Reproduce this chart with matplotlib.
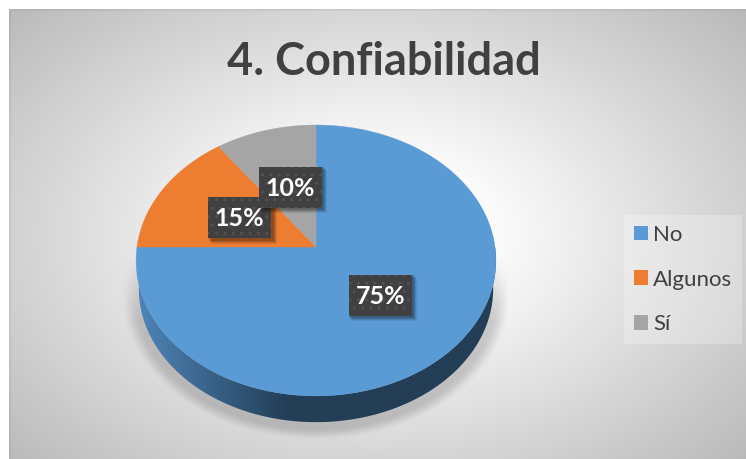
import numpy as np
import matplotlib
matplotlib.use('Agg')
import matplotlib.pyplot as plt
from matplotlib.patches import Polygon, Rectangle, PathPatch, Patch
from matplotlib.path import Path

title = '4. Confiabilidad'
labels = ['No', 'Algunos', 'Sí']
values = [75, 15, 10]
colors = ['#5B9BD5', '#ED7D31', '#A5A5A5']
text_color = '#404040'

W, H = 746, 459
plt.rcParams['font.family'] = ['Lato', 'DejaVu Sans']

fig = plt.figure(figsize=(W / 100, H / 100), dpi=100)
ax = fig.add_axes([0, 0, 1, 1])
ax.set_xlim(0, W)
ax.set_ylim(H, 0)
ax.axis('off')

# pie seen in perspective: unit circle to pixels
cx, cy, a, b, k = 316, 247, 179, 134.1, 0.0994


def project(X, Y, dy=0, shrink=1.0):
    d = 1 + k * Y
    return cx + shrink * a * X / d, cy + dy - shrink * b * Y / d


# background: radial gradient
yy, xx = np.mgrid[0:H, 0:W] + 0.5
r = np.hypot((xx - 375) / 500, (yy - 235) / 330)
bg = np.clip(1.0 - 0.27 * np.clip(r - 0.2, 0, None) / 0.8, 0, 1)
rgba = np.dstack([bg, bg, bg, np.ones_like(bg)])
rgba[(xx < 9) | (yy < 9)] = [1, 1, 1, 1]
band = ((xx >= 9) & (xx < 11) & (yy >= 9)) | ((yy >= 9) & (yy < 11) & (xx >= 9))
rgba[band, :3] *= 0.95

# soft shadow under the pie
sx = (xx - 316) / 196
sy = (yy - 295) / 146
dist = np.hypot(sx, sy)
fall = np.clip((1.0 - dist) / 0.09, 0, 1)
fall = fall * fall * (3 - 2 * fall)
sh = fall * np.clip((yy - 250) / 70, 0, 1) * 0.17
rgba[..., :3] *= (1 - sh)[..., None]
ax.imshow(rgba, extent=(0, W, H, 0), aspect='auto', zorder=0, interpolation='bilinear')
ax.set_xlim(0, W)
ax.set_ylim(H, 0)

# side of the pie, gradient clipped to the rim
depth = 28.5
t = np.linspace(np.pi, 2 * np.pi, 200)
tx, ty = project(np.cos(t), np.sin(t))
bx, by = project(np.cos(t), np.sin(t), dy=depth, shrink=0.985)
rim = np.column_stack([np.r_[tx, bx[::-1]], np.r_[ty, by[::-1]]])
grad_x = np.linspace(0, 1, 400)
c0 = np.array([0x4F, 0x85, 0xB8]) / 255
c1 = np.array([0x23, 0x3E, 0x56]) / 255
mix = np.clip(grad_x / 0.42, 0, 1)[None, :, None]
grad = c0 + (c1 - c0) * mix
im = ax.imshow(grad, extent=(137, 496, 430, 240), aspect='auto', zorder=1)
clip = PathPatch(Path(rim), transform=ax.transData, fc='none', ec='none')
ax.add_patch(clip)
im.set_clip_path(clip)
ax.set_xlim(0, W)
ax.set_ylim(H, 0)

# slices, clockwise from the top
fracs = np.array(values) / sum(values)
starts = np.r_[0, np.cumsum(fracs)[:-1]]
for s, f, c in zip(starts, fracs, colors):
    ang = np.pi / 2 - 2 * np.pi * np.linspace(s, s + f, 200)
    px, py = project(np.cos(ang), np.sin(ang))
    ax.add_patch(Polygon(np.column_stack([np.r_[cx, px], np.r_[cy, py]]),
                         closed=True, fc=c, ec=c, lw=0.3, zorder=2))

# data labels
for i, (s, f, v) in enumerate(zip(starts, fracs, values)):
    ang = np.pi / 2 - 2 * np.pi * (s + f / 2)
    lx, ly = project(0.49 * np.cos(ang), 0.49 * np.sin(ang))
    z = 3 + i * 2
    for off, al in ((5.5, 0.08), (4.5, 0.1), (3.5, 0.12), (2.5, 0.15)):
        ax.add_patch(Rectangle((lx - 31.5 + off - 2, ly - 20.5 + off - 2), 63 + 2, 41 + 2,
                               fc='black', ec='none', alpha=al, zorder=z))
    ax.add_patch(Rectangle((lx - 31.5, ly - 20.5), 63, 41, fc='#404040', ec='#525252',
                           lw=0, hatch='..', zorder=z + 0.5))
    ax.text(lx, ly + 1, '%d%%' % v, color='white', fontsize=18, fontweight='bold',
            ha='center', va='center', zorder=z + 1)

ax.text(384, 62, title, color=text_color, fontsize=32.5, fontweight='bold',
        ha='center', va='center', zorder=3)

# legend
handles = [Patch(fc=c, ec='none') for c in colors]
leg = ax.legend(handles, labels, loc='center left', bbox_to_anchor=(624 / W, 1 - 279.5 / H),
                frameon=True, framealpha=0.25, facecolor='white', edgecolor='none', fancybox=False,
                fontsize=16, labelcolor=text_color, handlelength=0.63, handleheight=0.63,
                handletextpad=0.22, labelspacing=1.12, borderpad=0.45, borderaxespad=0)
leg.set_zorder(3)
leg.get_frame().set_linewidth(0)

fig.savefig('out.png', dpi=100)
